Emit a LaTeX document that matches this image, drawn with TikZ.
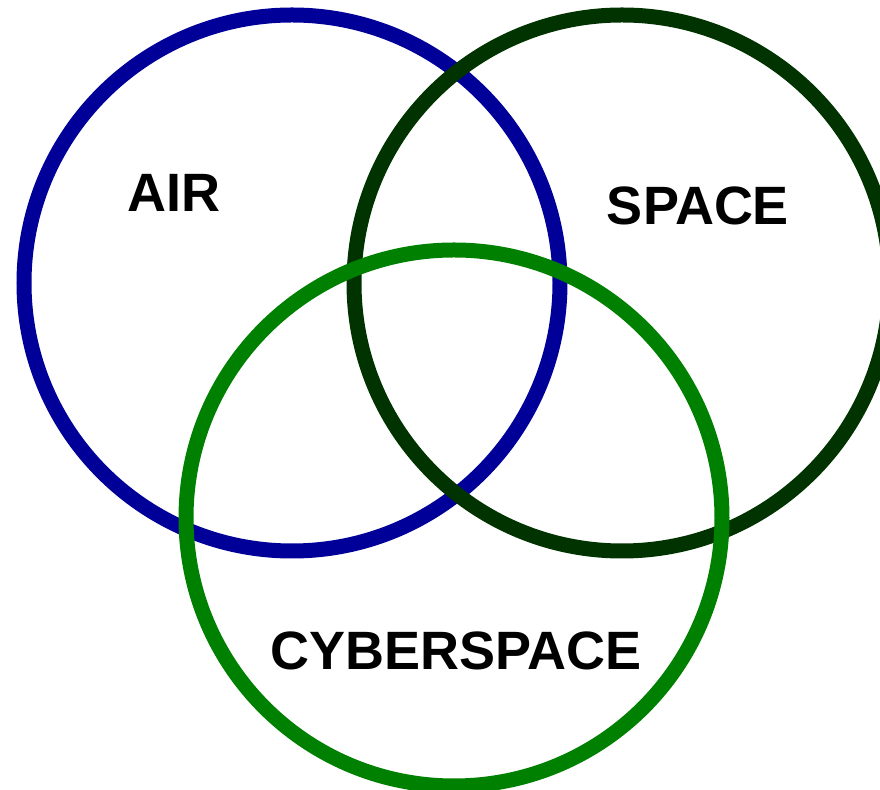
\documentclass[tikz,border=0pt]{standalone}
\usepackage{fontspec}
\setmainfont{Liberation Sans}
\usetikzlibrary{shapes.geometric}
\definecolor{airblue}{RGB}{0,0,153}
\definecolor{spacegreen}{RGB}{0,51,0}
\definecolor{cybergreen}{RGB}{0,128,0}
\tikzstyle{ring} = [
    circle,
    minimum size=268pt,
    inner sep=0pt,
    line width=7.5pt
]
\tikzstyle{arealabel} = [
    font=\fontsize{27}{32}\selectfont\bfseries,
    inner sep=0pt
]

\begin{document}
\begin{tikzpicture}[x=0.5pt, y=-0.5pt]

\useasboundingbox (0,0) rectangle (880,790);
\clip (0,0) rectangle (880,790);

\node (airring) [ring, draw=airblue] at (292,283) {};

\node (spacering) [ring, draw=spacegreen] at (622,283) {};

\node (cyberring) [ring, draw=cybergreen] at (454,518) {};

\node (air) [arealabel] at (174,193) {AIR};

\node (space) [arealabel] at (698,206) {SPACE};

\node (cyber) [arealabel] at (456,651) {CYBERSPACE};

\end{tikzpicture}
\end{document}
